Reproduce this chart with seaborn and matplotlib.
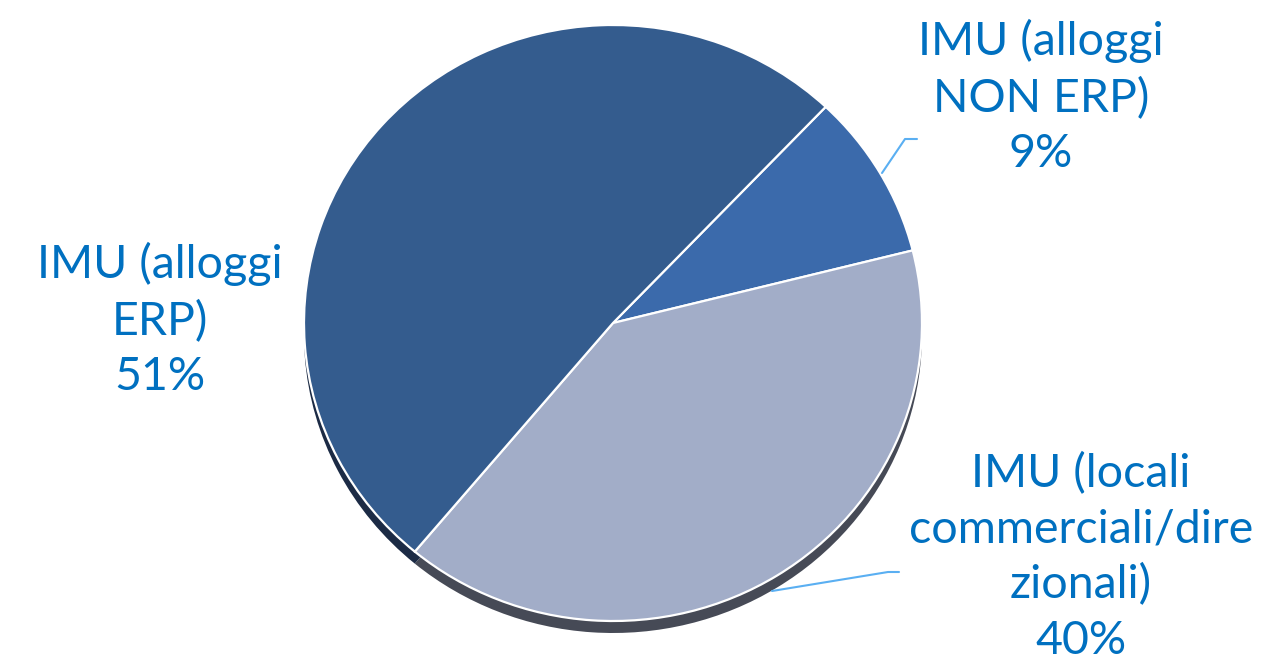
import matplotlib
matplotlib.use("Agg")
import matplotlib.pyplot as plt
from matplotlib.lines import Line2D
import seaborn as sns

# Composizione del gettito IMU
categories = ["IMU (alloggi\nNON ERP)", "IMU (locali\ncommerciali/dire\nzionali)", "IMU (alloggi\nERP)"]
shares = [9, 40, 51]
top_colors = ["#3b6aab", "#a2adc8", "#345c8e"]
side_colors = ["#1f355a", "#464a56", "#1c2b45"]

sns.set_theme(style="white")
plt.rcParams["font.family"] = ["Lato", "DejaVu Sans"]

W, H = 1287, 660
fig = plt.figure(figsize=(W / 100, H / 100), dpi=100)
fig.patch.set_facecolor("white")

# pie area in pixels: left, top, width, height
px_l, px_t, px_w, px_h = 304, 25, 618, 596
ax = fig.add_axes([px_l / W, 1 - (px_t + px_h) / H, px_w / W, px_h / H])

depth = 12 / (px_h / 2)
start = 46.5

# side of the disc (shifted copy underneath)
ax.pie(shares, colors=side_colors, startangle=start, counterclock=False,
       radius=1.0, center=(0, -depth), wedgeprops=dict(linewidth=0))
# top face
ax.pie(shares, colors=top_colors, startangle=start, counterclock=False,
       radius=1.0, center=(0, 0),
       wedgeprops=dict(edgecolor="white", linewidth=1.6))
ax.set_aspect("auto")
ax.set_xlim(-1, 1)
ax.set_ylim(-1, 1)
ax.set_axis_off()

text_color = "#0070c0"
label_pos = [(1041, 97), (1081, 557), (160, 320)]
for cat, val, (x, y) in zip(categories, shares, label_pos):
    fig.text(x / W, 1 - y / H, f"{cat}\n{val}%", ha="center", va="center",
             fontsize=33.5, color=text_color, linespacing=1.38)

# leader lines
leaders = [
    [(882, 173), (905, 139), (917, 139)],
    [(772, 591), (888, 572), (899, 572)],
]
for pts in leaders:
    xs = [p[0] / W for p in pts]
    ys = [1 - p[1] / H for p in pts]
    fig.add_artist(Line2D(xs, ys, transform=fig.transFigure,
                          color="#5aaff2", linewidth=1.5))

fig.savefig("out.png", dpi=100)
